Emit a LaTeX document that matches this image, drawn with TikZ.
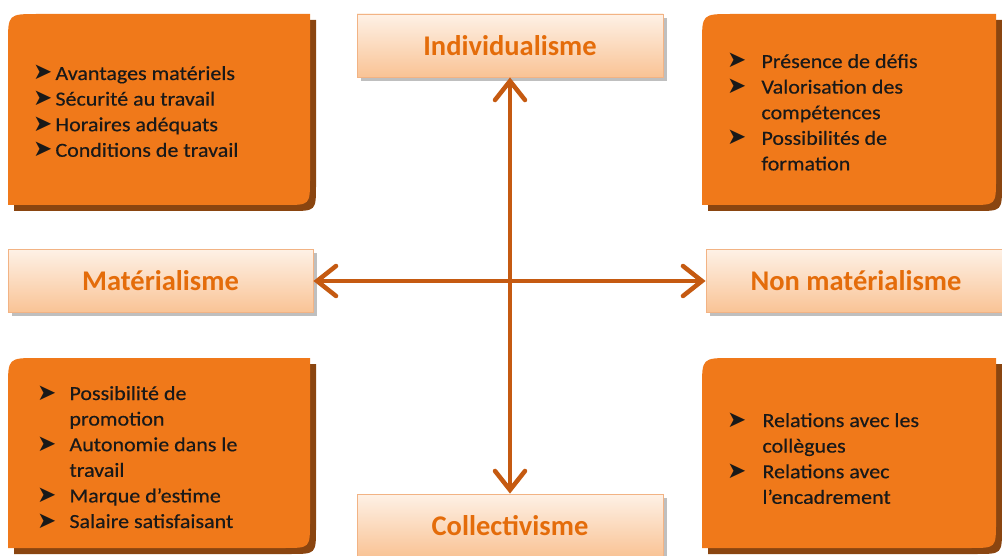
\documentclass[tikz,border=0pt]{standalone}
\usepackage{fontspec}
\setmainfont{Carlito}
\newfontfamily\bulletfont{DejaVu Sans}
\newfontfamily\cardfont{Carlito}[FakeStretch=1.1, FakeBold=0.4]
\usetikzlibrary{arrows.meta,shadows}

\definecolor{cardorange}{HTML}{F0791A}
\definecolor{cardshade}{HTML}{8A4510}
\definecolor{labeltop}{HTML}{FEF1E6}
\definecolor{labelbottom}{HTML}{F9C395}
\definecolor{labelline}{HTML}{F2B384}
\definecolor{labeltext}{HTML}{E46C0A}
\definecolor{arrowbrown}{HTML}{C55A11}

\newcommand{\bul}{{\bulletfont\fontsize{23}{23}\selectfont ➤}}

\begin{document}
\begin{tikzpicture}[x=1pt,y=-1pt,
    namebox/.style={draw=labelline, line width=0.8pt, top color=labeltop, bottom color=labelbottom,
        minimum width=306pt, minimum height=63pt, text=labeltext,
        font=\fontsize{28.5}{30}\selectfont\bfseries,
        drop shadow={shadow xshift=4pt, shadow yshift=-4pt, fill=black!50}},
    cardtext/.style={anchor=base west, inner sep=0pt, text=black!90, font=\cardfont\fontsize{20}{25.6}\selectfont},
    axisline/.style={draw=arrowbrown, line width=4.5pt,
        {Straight Barb[length=19pt,width=30pt,line cap=round]}-{Straight Barb[length=19pt,width=30pt,line cap=round]}}]
    \clip (0,0) rectangle (1002,556);

    % orange cards
    \foreach \xa/\ya/\xb/\yb in {8/14/310/205, 702/14/996/205, 8/358/310/548, 702/358/996/548} {
        \fill[cardorange, general shadow={shadow xshift=6pt, shadow yshift=-6pt, fill=cardshade}]
            (\xa,\ya+30) .. controls (\xa,\ya) .. (\xa+30,\ya) -- (\xb,\ya) -- (\xb,\yb-26)
            .. controls (\xb,\yb) .. (\xb-26,\yb) -- (\xa,\yb) -- cycle;
    }

    \node[cardtext] (avantages) at (33,80) {\begin{tabular}[t]{@{}l@{\hspace{3pt}}l@{}}
        \bul & Avantages matériels\\
        \bul & Sécurité au travail\\
        \bul & Horaires adéquats\\
        \bul & Conditions de travail
    \end{tabular}};
    \node[cardtext] (defis) at (727,68) {\begin{tabular}[t]{@{}l@{\hspace{15pt}}l@{}}
        \bul & Présence de défis\\
        \bul & Valorisation des\\
             & compétences\\
        \bul & Possibilités de\\
             & formation
    \end{tabular}};
    \node[cardtext] (promotion) at (37,400) {\begin{tabular}[t]{@{}l@{\hspace{13pt}}l@{}}
        \bul & Possibilité de\\
             & promotion\\
        \bul & Autonomie dans le\\
             & travail\\
        \bul & Marque d’estime\\
        \bul & Salaire satisfaisant
    \end{tabular}};
    \node[cardtext] (relations) at (727,427) {\begin{tabular}[t]{@{}l@{\hspace{16pt}}l@{}}
        \bul & Relations avec les\\
             & collègues\\
        \bul & Relations avec\\
             & l’encadrement
    \end{tabular}};

    % axes
    \node[namebox] (indiv) at (510,45.5) {Individualisme};
    \node[namebox] (collect) at (510,525.5) {Collectivisme};
    \node[namebox, minimum width=305pt] (mater) at (160.5,281) {Matérialisme};
    \node[namebox, minimum width=300pt] (nonmater) at (856,281) {Non matérialisme};

    \draw[axisline] (indiv) -- (collect);
    \draw[axisline] (mater) -- (nonmater);
\end{tikzpicture}
\end{document}
